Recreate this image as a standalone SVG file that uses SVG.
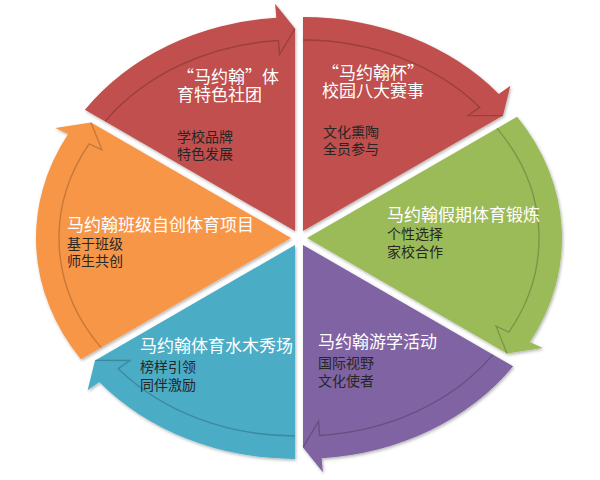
<svg xmlns="http://www.w3.org/2000/svg" width="600" height="480" viewBox="0 0 600 480">
<defs>
<filter id="sh" x="-10%" y="-10%" width="120%" height="120%">
<feDropShadow dx="1" dy="1.5" stdDeviation="1.5" flood-color="#000" flood-opacity="0.3"/>
</filter>
</defs>
<style>
.w{filter:url(#sh);}
.ln{fill:none;stroke:#000;stroke-opacity:0.2;stroke-width:1.4;}
text{font-family:"Noto Sans CJK SC","Liberation Sans",sans-serif;}
.t{font-size:17px;fill:#fff;}
.s{font-size:14px;fill:#262626;}
</style>
<rect width="600" height="480" fill="#fff"/>

<g id="node1">
<g transform="translate(295,231.07)">
<path class="w" fill="#C0504D" d="M0,0 L-210.09,-121.30 A255,214 0 0 1 -18.67,-213.42 L-19.89,-227.38 L0,-202.5 Z"/>
<path class="ln" d="M-189.95,-109.67 A232,191 0 0 1 -16.67,-190.50 L-15.45,-176.55 L0,-202.5"/>
</g>
<text><tspan class="t" x="177" y="83">“马约翰”体</tspan><tspan class="t" x="177" y="101">育特色社团</tspan><tspan class="s" x="177" y="142">学校品牌</tspan><tspan class="s" x="177" y="159">特色发展</tspan></text>
</g>

<g id="node2">
<g transform="translate(303,231.07)">
<path class="w" fill="#C0504D" d="M0,0 L0,-214 A255,214 0 0 1 195.80,-137.10 L207.38,-145.21 L200.02,-115.48 Z"/>
<path class="ln" d="M0,-191 A232,191 0 0 1 176.73,-123.75 L165.08,-115.59 L200.02,-115.48"/>
</g>
<text><tspan class="t" x="322" y="79">“马约翰杯”</tspan><tspan class="t" x="322" y="97">校园八大赛事</tspan><tspan class="s" x="323" y="137">文化熏陶</tspan><tspan class="s" x="323" y="154">全员参与</tspan></text>
</g>

<g id="node3">
<g transform="translate(307,238)">
<path class="w" fill="#9BBB59" d="M0,0 L210.09,-121.30 A255,214 0 0 1 222.91,103.94 L235.69,109.90 L200.02,115.48 Z"/>
<path class="ln" d="M189.95,-109.67 A232,191 0 0 1 201.87,94.13 L189.05,88.15 L200.02,115.48"/>
</g>
<text><tspan class="t" x="387" y="221">马约翰假期体育锻炼</tspan><tspan class="s" x="387" y="239">个性选择</tspan><tspan class="s" x="387" y="257">家校合作</tspan></text>
</g>

<g id="node4">
<g transform="translate(303,244.93)">
<path class="w" fill="#8064A2" d="M0,0 L210.09,121.30 A255,214 0 0 1 18.67,213.42 L19.89,227.38 L0,202.5 Z"/>
<path class="ln" d="M189.95,109.67 A232,191 0 0 1 16.67,190.50 L15.45,176.55 L0,202.5"/>
</g>
<text><tspan class="t" x="318" y="348">马约翰游学活动</tspan><tspan class="s" x="318" y="368">国际视野</tspan><tspan class="s" x="318" y="386">文化使者</tspan></text>
</g>

<g id="node5">
<g transform="translate(295,244.93)">
<path class="w" fill="#4BACC6" d="M0,0 L0,214 A255,214 0 0 1 -195.80,137.10 L-207.38,145.21 L-200.02,115.48 Z"/>
<path class="ln" d="M0,191 A232,191 0 0 1 -176.73,123.75 L-165.08,115.59 L-200.02,115.48"/>
</g>
<text><tspan class="t" x="140" y="352">马约翰体育水木秀场</tspan><tspan class="s" x="140" y="372">榜样引领</tspan><tspan class="s" x="140" y="390">同伴激励</tspan></text>
</g>

<g id="node6">
<g transform="translate(291,238)">
<path class="w" fill="#F79646" d="M0,0 L-210.09,121.30 A255,214 0 0 1 -222.91,-103.94 L-235.69,-109.90 L-200.02,-115.48 Z"/>
<path class="ln" d="M-189.95,109.67 A232,191 0 0 1 -201.87,-94.13 L-189.05,-88.15 L-200.02,-115.48"/>
</g>
<text><tspan class="t" x="67" y="231">马约翰班级自创体育项目</tspan><tspan class="s" x="67" y="249">基于班级</tspan><tspan class="s" x="67" y="266">师生共创</tspan></text>
</g>
</svg>
